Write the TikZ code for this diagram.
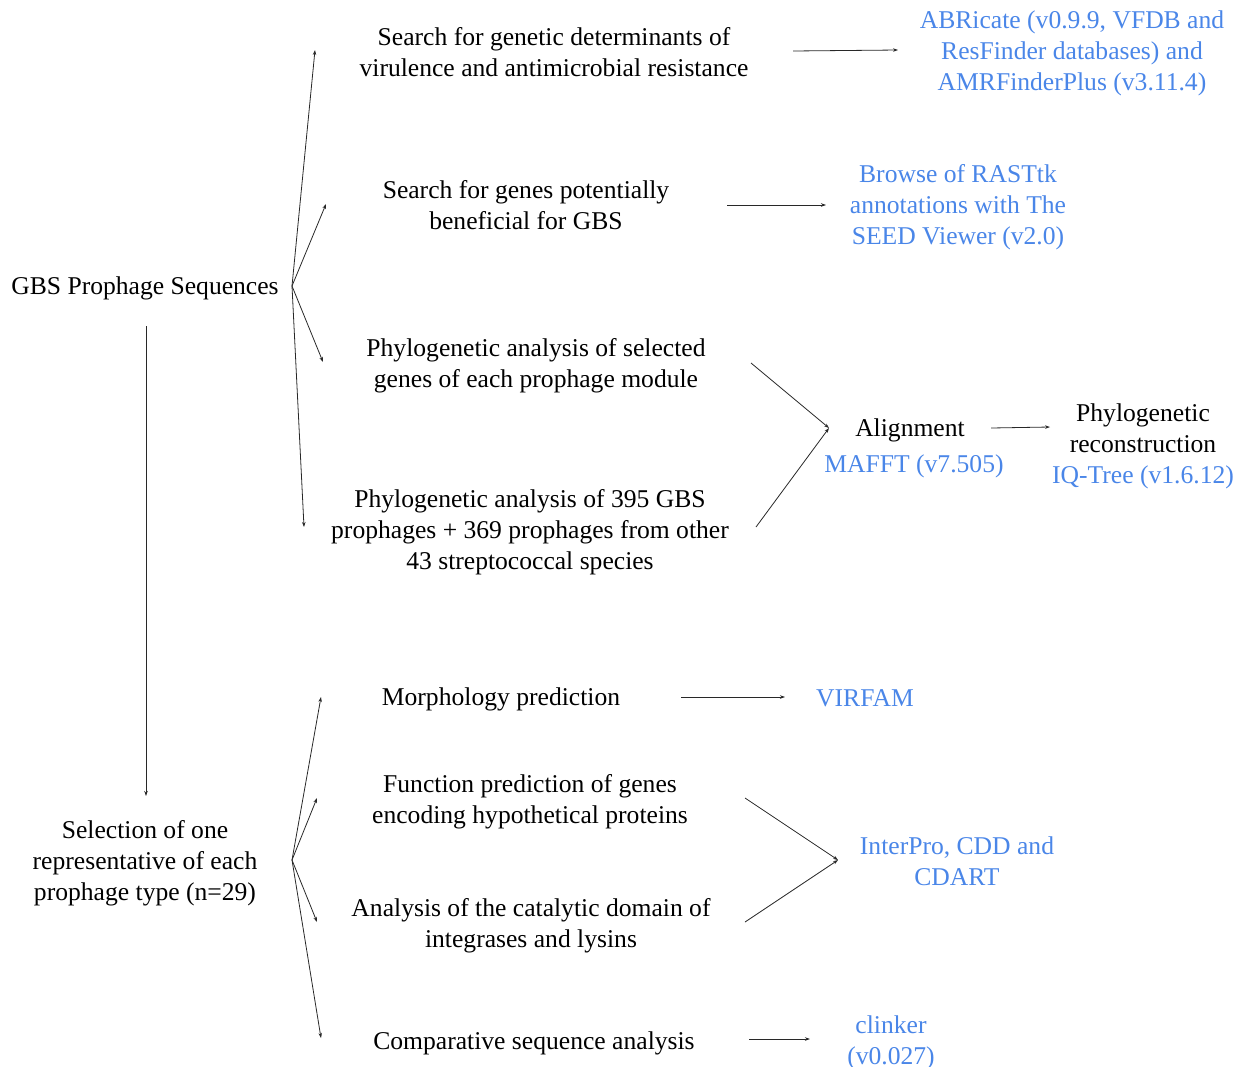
\documentclass[tikz,border=0pt]{standalone}
\usepackage{fontspec}
\setmainfont{Liberation Serif}
\usetikzlibrary{arrows.meta}
\definecolor{toolblue}{RGB}{74,134,232}
\definecolor{linegray}{RGB}{40,40,40}
\begin{document}
\begin{tikzpicture}[x=1pt,y=-1pt,
  every node/.style={inner sep=0pt,outer sep=0pt,align=center,font=\fontsize{25.6}{31}\selectfont},
  txt/.style={text=black},
  tool/.style={text=toolblue},
  conn/.style={draw=linegray,line width=0.8pt,-{Stealth[length=5pt,width=3.5pt]}}]
\path[use as bounding box] (0,0) rectangle (1244,1066);

% main nodes
\node[txt] (gbs) at (145,288) {GBS Prophage Sequences};
\node[txt] (sel) at (145,863) {Selection of one\\representative of each\\prophage type (n=29)};

\node[txt] (vir) at (554,52) {Search for genetic determinants of\\virulence and antimicrobial resistance};
\node[tool] (abr) at (1072,53) {ABRicate (v0.9.9, VFDB and\\ResFinder databases) and\\AMRFinderPlus (v3.11.4)};

\node[txt] (ben) at (526,205) {Search for genes potentially\\beneficial for GBS};
\node[tool] (rast) at (958,207) {Browse of RASTtk\\annotations with The\\SEED Viewer (v2.0)};

\node[txt] (phy1) at (536,366) {Phylogenetic analysis of selected\\genes of each prophage module};
\node[txt] (phy2) at (530,532) {Phylogenetic analysis of 395 GBS\\prophages + 369 prophages from other\\43 streptococcal species};

\node[txt] (aln) at (910,430) {Alignment};
\node[tool] (mafft) at (914,466) {MAFFT (v7.505)};
\node[txt] (rec) at (1143,428) {Phylogenetic\\reconstruction};
\node[tool] (iq) at (1143,477) {IQ-Tree (v1.6.12)};

\node[txt] (mor) at (501,699) {Morphology prediction};
\node[tool] (virf) at (865,698) {VIRFAM};

\node[txt] (fun) at (530,802) {Function prediction of genes\\encoding hypothetical proteins};
\node[txt] (cat) at (531,926) {Analysis of the catalytic domain of\\integrases and lysins};
\node[tool] (ipr) at (957,861) {InterPro, CDD and\\CDART};

\node[txt] (cmp) at (534,1043) {Comparative sequence analysis};
\node[tool] (clk) at (891,1043) {clinker\\(v0.027)};

% connector end points
\coordinate (gbsR) at (292,286);
\coordinate (virL) at (315,50);
\coordinate (benL) at (326,204);
\coordinate (phy1L) at (323,362);
\coordinate (phy2L) at (304,527);
\coordinate (gbsB) at (146,326);
\coordinate (selT) at (146,796);
\coordinate (selR) at (292,860);
\coordinate (morL) at (321,697);
\coordinate (funL) at (317,798);
\coordinate (catL) at (317,922);
\coordinate (cmpL) at (321,1038);
\coordinate (virR) at (793,51);
\coordinate (abrL) at (898,50);
\coordinate (benR) at (727,205);
\coordinate (rastL) at (826,205);
\coordinate (phy1R) at (751,363);
\coordinate (phy2R) at (756,527);
\coordinate (alnL) at (829,428);
\coordinate (alnR) at (991,428);
\coordinate (recL) at (1050,427);
\coordinate (morR) at (681,697);
\coordinate (virfL) at (785,697);
\coordinate (funR) at (745,798);
\coordinate (catR) at (745,922);
\coordinate (iprL) at (838,860);
\coordinate (cmpR) at (749,1039);
\coordinate (clkL) at (810,1039);

% connectors
\draw[conn] (gbsR) -- (virL);
\draw[conn] (gbsR) -- (benL);
\draw[conn] (gbsR) -- (phy1L);
\draw[conn] (gbsR) -- (phy2L);
\draw[conn] (gbsB) -- (selT);
\draw[conn] (selR) -- (morL);
\draw[conn] (selR) -- (funL);
\draw[conn] (selR) -- (catL);
\draw[conn] (selR) -- (cmpL);
\draw[conn] (virR) -- (abrL);
\draw[conn] (benR) -- (rastL);
\draw[conn] (phy1R) -- (alnL);
\draw[conn] (phy2R) -- (alnL);
\draw[conn] (alnR) -- (recL);
\draw[conn] (morR) -- (virfL);
\draw[conn] (funR) -- (iprL);
\draw[conn] (catR) -- (iprL);
\draw[conn] (cmpR) -- (clkL);
\end{tikzpicture}
\end{document}
